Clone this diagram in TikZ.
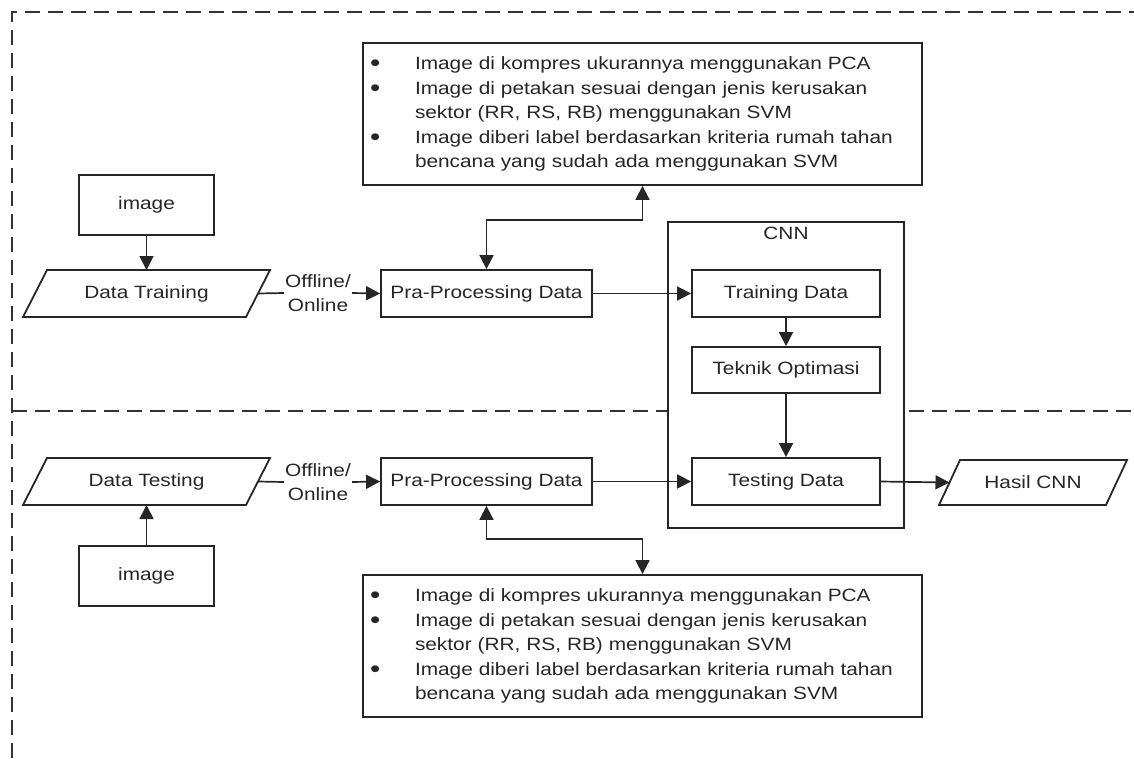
\documentclass[tikz,border=0pt]{standalone}
\usepackage{fontspec}
\setmainfont{Liberation Sans}[FakeStretch=1.17]
\usetikzlibrary{arrows.meta,calc}
\newcommand\pgdraw[2]{\draw[pgline] ([xshift=-#2]#1.south west) -- ([xshift=#2]#1.north west) -- ([xshift=#2]#1.north east) -- ([xshift=-#2]#1.south east) -- cycle;}
\newcommand\bigbul{\raisebox{-2pt}{\fontsize{25}{25}\selectfont\textbullet}}
\newcommand\bullist{\begin{tabular}{@{}p{45pt}@{}l@{}}
\bigbul & Image di kompres ukurannya menggunakan PCA\\
\bigbul & Image di petakan sesuai dengan jenis kerusakan\\
 & sektor (RR, RS, RB) menggunakan SVM\\
\bigbul & Image diberi label berdasarkan kriteria rumah tahan\\
 & bencana yang sudah ada menggunakan SVM
\end{tabular}}
\begin{document}
\begin{tikzpicture}[x=1pt,y=-1pt,
  font=\fontsize{17.8}{24.5}\selectfont,
  box/.style={draw=black!85, line width=1.8pt, fill=white, inner sep=2pt, text=black!85},
  pgram/.style={inner sep=2pt, outer sep=0pt, text=black!85},
  pgline/.style={draw=black!85, line width=1.8pt, line join=miter},
  tip/.tip={Triangle[length=14pt,width=14pt]},
  arr/.style={draw=black!85, line width=1.7pt, -tip},
  dbl/.style={draw=black!85, line width=1.7pt, tip-tip},
  plain/.style={draw=black!85, line width=1.7pt},
  dashline/.style={draw=black!80, line width=1.6pt, dash pattern=on 15pt off 8pt},
  lbl/.style={inner sep=1pt, align=center, text=black!85}
]
\useasboundingbox (0,0) rectangle (1134,758);
% dashed frame
\draw[dashline] (12,758) -- (12,12) -- (1134,12);
\draw[dashline] (12,411) -- (1134,411);

% CNN container
\node[box, minimum width=236pt, minimum height=306pt,
  label={[anchor=north, inner sep=6pt, text=black!85]north:CNN}] (cnn) at (786,375) {};
\node[box, minimum width=188pt, minimum height=47pt] (trn) at (786,293.5) {Training Data};
\node[box, minimum width=188pt, minimum height=46pt] (tek) at (786,370) {Teknik Optimasi};
\node[box, minimum width=188pt, minimum height=47pt] (tst) at (786,481.5) {Testing Data};

% top row
\node[box, minimum width=135pt, minimum height=60pt] (img1) at (146.5,205) {image};
\node[pgram, minimum width=223pt, minimum height=47pt] (dtrain) at (146.5,293.5) {Data Training};
\pgdraw{dtrain}{12pt}
\node[lbl] (off1) at (318,293) {Offline/\\Online};
\node[box, minimum width=211pt, minimum height=47pt] (pra1) at (486.5,293.5) {Pra-Processing Data};
\node[box, minimum width=559pt, minimum height=142pt, inner xsep=7pt, inner ysep=0pt,
  text width=545pt, align=left] (bul1) at (642.5,114) {\bullist};

% bottom row
\node[pgram, minimum width=223pt, minimum height=47pt] (dtest) at (146.5,481.5) {Data Testing};
\pgdraw{dtest}{12pt}
\node[box, minimum width=135pt, minimum height=60pt] (img2) at (146.5,576) {image};
\node[lbl] (off2) at (318,482) {Offline/\\Online};
\node[box, minimum width=211pt, minimum height=47pt] (pra2) at (486.5,481.5) {Pra-Processing Data};
\node[box, minimum width=559pt, minimum height=142pt, inner xsep=7pt, inner ysep=0pt,
  text width=545pt, align=left] (bul2) at (642.5,646) {\bullist};

% output
\node[pgram, minimum width=167pt, minimum height=45pt] (hasil) at (1033,482.5) {Hasil CNN};
\pgdraw{hasil}{10.5pt}

% connectors
\coordinate (k1) at (642.5,220);
\coordinate (k2) at (642.5,539);
\draw[arr] (img1.south) -- (dtrain.north);
\draw[plain] (dtrain.east) -- (off1.west);
\draw[arr] (off1.east) -- (pra1.west);
\draw[arr] (pra1.east) -- (trn.west);
\draw[dbl] (pra1.north) |- (k1) -- (bul1.south);
\draw[arr] (trn.south) -- (tek.north);
\draw[arr] (tek.south) -- (tst.north);

\draw[arr] (img2.north) -- (dtest.south);
\draw[plain] (dtest.east) -- (off2.west);
\draw[arr] (off2.east) -- (pra2.west);
\draw[arr] (pra2.east) -- (tst.west);
\draw[dbl] (pra2.south) |- (k2) -- (bul2.north);
\draw[arr] (tst.east) -- (hasil.west);
\end{tikzpicture}
\end{document}
